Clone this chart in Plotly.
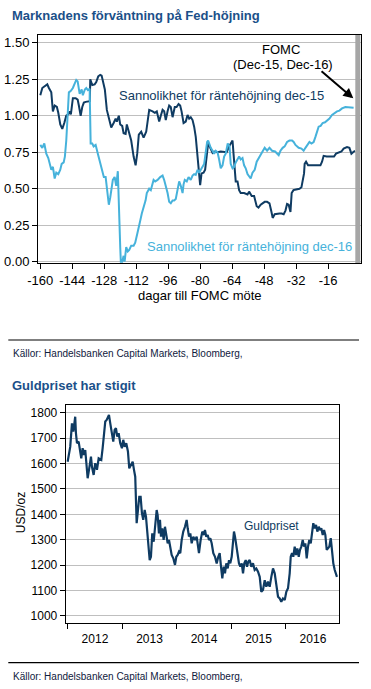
import numpy as np
import pandas as pd
import plotly.graph_objects as go

# ---------------- Data: Fed hike probability ----------------
dark_days = [-160, -159, -158, -156.5, -155.7, -154.5, -153.7, -152.8, -151.7, -151,
             -150, -149, -148, -147, -146, -145.3, -144.7, -143.7, -142.3, -141.3,
             -140.7, -139.8, -139, -138.2, -137.3, -136.2, -135.2, -135, -134, -132.8,
             -132, -131, -130, -129.3, -128.7, -127.7, -126.7, -125.7, -124.5, -123.3,
             -122.3, -121.7, -120.7, -120, -119, -118.3, -117.3, -116.7, -115.7, -114.5,
             -113.3, -112.3, -111.5, -110.7, -109.5, -108.3, -107, -106.3, -105.5, -103.8,
             -102.7, -101.7, -100.5, -99.7, -98.8, -98, -97.2, -96.3, -95.5, -94.7,
             -93.8, -92.7, -91.8, -90.8, -90, -89.3, -88.3, -87.2, -86.3, -85.5,
             -84.7, -83.8, -83, -82.2, -81.7, -81, -80, -79.3, -78.3, -77.5,
             -76.7, -76, -75.3, -74.7, -73.8, -73, -71.3, -69.7, -68, -66.7,
             -65.5, -64.7, -63.8, -63.3, -62.7, -62.2, -61.3, -60.5, -59.7, -58,
             -56.3, -55.5, -54.2, -53, -51.7, -50.8, -49.7, -48.7, -47.7, -46.5,
             -45.3, -44.3, -43.7, -42.7, -41.5, -40.3, -39.2, -38.2, -37.3, -36.5,
             -35.7, -34.8, -34.2, -33.3, -32, -30.3, -29.3, -28.7, -28, -27.7,
             -27, -26, -23.2, -19.8, -19, -18.2, -16.7, -15, -13, -12,
             -10.7, -9.3, -8.2, -6.5, -5.3, -4.3, -3.5, -2.5]
dark_vals = [1.14, 1.19, 1.20, 1.215, 1.19, 1.16, 1.03, 1.07, 1.06, 1.02,
             0.94, 0.91, 0.95, 1.00, 1.01, 1.03, 1.01, 1.12, 1.12, 1.11,
             1.07, 1.00, 1.06, 1.09, 1.095, 1.10, 1.10, 1.25, 1.21, 1.215,
             1.23, 1.27, 1.28, 1.275, 1.23, 1.18, 1.04, 0.99, 0.92, 0.95,
             0.98, 0.96, 1.00, 0.94, 0.93, 0.88, 0.875, 0.94, 0.88, 0.83,
             0.72, 0.66, 0.74, 0.87, 0.89, 0.85, 0.89, 0.98, 1.04, 1.03,
             1.02, 1.03, 0.96, 1.00, 1.04, 1.03, 0.97, 1.03, 1.07, 1.06,
             0.99, 1.06, 1.06, 1.08, 1.07, 1.03, 0.95, 0.96, 1.005, 0.98,
             0.99, 0.97, 0.925, 0.855, 0.79, 0.70, 0.525, 0.605, 0.61, 0.63,
             0.755, 0.81, 0.79, 0.77, 0.745, 0.755, 0.75, 0.755, 0.755, 0.75,
             0.79, 0.81, 0.83, 0.74, 0.64, 0.55, 0.55, 0.49, 0.47, 0.47,
             0.46, 0.48, 0.45, 0.45, 0.38, 0.37, 0.39, 0.40, 0.41, 0.41,
             0.40, 0.34, 0.30, 0.325, 0.33, 0.33, 0.33, 0.325, 0.35, 0.395,
             0.39, 0.34, 0.47, 0.49, 0.495, 0.50, 0.51, 0.56, 0.605, 0.67,
             0.685, 0.66, 0.66, 0.66, 0.685, 0.725, 0.72, 0.72, 0.72, 0.74,
             0.745, 0.755, 0.775, 0.785, 0.78, 0.74, 0.75, 0.76]

light_days = [-160, -159, -158, -157, -156, -155.3, -154.5, -153.7, -152.8, -152,
              -151, -150, -149.3, -148.3, -147.7, -147, -146.2, -145.7, -144.7, -143.7,
              -142.8, -142, -141.3, -140.3, -139.3, -138.7, -137.7, -137, -136.2, -135.3,
              -134.8, -134, -133.3, -132.3, -131.2, -130, -129, -128.2, -127.3, -126.5,
              -125.7, -125, -124.3, -123.7, -122.8, -122, -121.2, -120.8, -120, -119.7,
              -119, -118.3, -117.8, -117, -116.2, -115.5, -114.5, -113.3, -112.5, -111.5,
              -110.7, -110, -109.2, -108.3, -107.3, -106.7, -105.5, -104.7, -103.3, -102.5,
              -101.3, -100, -98.8, -98, -97.2, -96.3, -95.5, -94.7, -93.8, -93,
              -92.2, -91.3, -90.5, -89.7, -88.8, -88.3, -87.7, -86.7, -85.8, -84.7,
              -83.8, -83, -82.2, -81.3, -80.5, -79.7, -78.8, -78, -77.2, -76.5,
              -76, -75.3, -74.7, -73.8, -73, -72.2, -71.3, -70.5, -69.7, -68.8,
              -68, -67.2, -66.2, -65.3, -64.7, -63.8, -63, -62.2, -61.3, -60.5,
              -59.7, -58.8, -58, -57.2, -56.3, -55.5, -54.7, -53.8, -52.7, -51.7,
              -50.3, -49.3, -48.7, -47.7, -46.5, -45.3, -44, -42.5, -40.7, -39.8,
              -38.7, -37.7, -36.5, -35.3, -34, -33.2, -32.3, -30.7, -29.3, -28.2,
              -27.3, -26.5, -25.3, -24.3, -23.2, -22.3, -21.5, -20.7, -19.7, -18.7,
              -17.5, -16.3, -15.3, -14, -13, -11.5, -10.3, -9, -7.3, -5.7,
              -4, -3.2]
light_vals = [0.80, 0.78, 0.81, 0.74, 0.71, 0.67, 0.63, 0.65, 0.57, 0.61,
              0.60, 0.63, 0.67, 0.68, 0.72, 0.83, 1.02, 1.16, 1.17, 1.19,
              1.22, 1.245, 1.235, 1.15, 1.18, 1.14, 1.18, 1.19, 1.175, 1.185,
              0.81, 0.81, 0.79, 0.80, 0.74, 0.67, 0.605, 0.58, 0.58, 0.47,
              0.39, 0.44, 0.52, 0.56, 0.58, 0.52, 0.62, 0.38, 0.10, 0.00,
              0.00, 0.04, 0.00, 0.10, 0.07, 0.08, 0.11, 0.11, 0.13, 0.19,
              0.25, 0.28, 0.33, 0.37, 0.42, 0.47, 0.50, 0.49, 0.56, 0.55,
              0.56, 0.58, 0.59, 0.56, 0.525, 0.47, 0.41, 0.40, 0.42, 0.42,
              0.43, 0.50, 0.55, 0.52, 0.47, 0.53, 0.56, 0.55, 0.58, 0.56,
              0.59, 0.60, 0.595, 0.63, 0.61, 0.63, 0.65, 0.67, 0.75, 0.82,
              0.83, 0.80, 0.78, 0.76, 0.74, 0.76, 0.75, 0.70, 0.64, 0.66,
              0.72, 0.74, 0.81, 0.79, 0.67, 0.64, 0.65, 0.68, 0.70, 0.72,
              0.70, 0.71, 0.66, 0.64, 0.60, 0.58, 0.57, 0.61, 0.63, 0.685,
              0.72, 0.74, 0.75, 0.78, 0.76, 0.78, 0.76, 0.755, 0.73, 0.76,
              0.78, 0.79, 0.82, 0.83, 0.83, 0.82, 0.80, 0.78, 0.775, 0.76,
              0.78, 0.80, 0.82, 0.81, 0.82, 0.855, 0.89, 0.925, 0.93, 0.95,
              0.955, 0.97, 0.98, 1.005, 1.015, 1.03, 1.035, 1.05, 1.06, 1.06,
              1.055, 1.055]

top_tick_vals = [-160, -144, -128, -112, -96, -80, -64, -48, -32, -16]
top_tick_labels = ["-160", "-144", "-128", "-112", "-96", "-80", "-64", "-48", "-32", "-16"]
prob_ticks = [0, 0.25, 0.5, 0.75, 1.0, 1.25, 1.5]

# ---------------- Data: gold price (decimal years since 2012-01-01) ----------------
gold_t = [0.0, 0.018, 0.048, 0.079, 0.103, 0.128, 0.139, 0.152, 0.171, 0.202,
          0.231, 0.250, 0.275, 0.299, 0.323, 0.349, 0.367, 0.396, 0.428, 0.446,
          0.477, 0.506, 0.538, 0.569, 0.617, 0.642, 0.666, 0.690, 0.716, 0.739,
          0.758, 0.782, 0.813, 0.837, 0.862, 0.886, 0.910, 0.936, 0.965, 0.996,
          1.020, 1.046, 1.075, 1.106, 1.130, 1.161, 1.193, 1.217, 1.240, 1.266,
          1.290, 1.314, 1.339, 1.363, 1.387, 1.413, 1.437, 1.461, 1.486, 1.505,
          1.528, 1.552, 1.578, 1.596, 1.620, 1.633, 1.651, 1.675, 1.694, 1.712,
          1.736, 1.761, 1.785, 1.809, 1.835, 1.859, 1.883, 1.908, 1.938, 1.969,
          1.993, 2.018, 2.042, 2.066, 2.092, 2.121, 2.152, 2.183, 2.202, 2.226,
          2.250, 2.275, 2.305, 2.336, 2.367, 2.385, 2.409, 2.440, 2.470, 2.501,
          2.519, 2.543, 2.569, 2.593, 2.617, 2.642, 2.672, 2.703, 2.734, 2.763,
          2.789, 2.813, 2.837, 2.862, 2.886, 2.910, 2.936, 2.960, 2.983, 3.009,
          3.033, 3.051, 3.070, 3.094, 3.119, 3.143, 3.167, 3.193, 3.217, 3.240,
          3.266, 3.290, 3.314, 3.339, 3.369, 3.400, 3.431, 3.461, 3.492, 3.523,
          3.552, 3.583, 3.615, 3.644, 3.675, 3.706, 3.736, 3.767, 3.798, 3.828,
          3.859, 3.890, 3.919, 3.950, 3.982, 4.011, 4.042, 4.073, 4.092, 4.116,
          4.139, 4.165, 4.189, 4.213, 4.239, 4.262, 4.286, 4.312, 4.336, 4.360,
          4.385, 4.409, 4.433, 4.459, 4.483, 4.506, 4.532, 4.556, 4.580, 4.606,
          4.629, 4.653, 4.679, 4.703, 4.727, 4.752, 4.776, 4.800, 4.826, 4.850,
          4.873, 4.899, 4.928, 4.940]
gold_price = [1607, 1633, 1666, 1758, 1725, 1765, 1784, 1719, 1680, 1686,
              1653, 1620, 1660, 1633, 1653, 1587, 1542, 1581, 1627, 1587,
              1555, 1601, 1575, 1620, 1614, 1660, 1719, 1765, 1771, 1784,
              1791, 1758, 1725, 1686, 1732, 1739, 1706, 1719, 1680, 1660,
              1693, 1666, 1680, 1647, 1581, 1594, 1607, 1575, 1548, 1365,
              1430, 1469, 1469, 1404, 1378, 1417, 1391, 1325, 1273, 1220,
              1233, 1325, 1292, 1325, 1380, 1417, 1397, 1325, 1378, 1312,
              1345, 1299, 1351, 1325, 1286, 1299, 1260, 1240, 1227, 1201,
              1233, 1240, 1253, 1247, 1299, 1332, 1351, 1378, 1345, 1312,
              1325, 1286, 1312, 1299, 1312, 1286, 1247, 1299, 1332, 1319,
              1338, 1312, 1319, 1299, 1306, 1286, 1247, 1233, 1207, 1233,
              1247, 1194, 1148, 1194, 1168, 1207, 1187, 1220, 1207, 1233,
              1286, 1332, 1312, 1273, 1233, 1207, 1194, 1207, 1168, 1207,
              1220, 1194, 1214, 1220, 1194, 1207, 1181, 1187, 1174, 1154,
              1095, 1102, 1141, 1115, 1135, 1115, 1154, 1187, 1168, 1122,
              1076, 1069, 1056, 1069, 1063, 1095, 1109, 1168, 1233, 1247,
              1233, 1273, 1240, 1266, 1233, 1260, 1273, 1299, 1273, 1286,
              1227, 1273, 1299, 1286, 1338, 1365, 1345, 1358, 1332, 1351,
              1338, 1345, 1319, 1338, 1319, 1260, 1266, 1273, 1306, 1247,
              1207, 1181, 1161, 1154]
gold_ticks = [1000, 1100, 1200, 1300, 1400, 1500, 1600, 1700, 1800]

gold_dates = pd.Timestamp("2012-01-01") + pd.to_timedelta(np.array(gold_t) * 365.25, unit="D")

# ---------------- Styling ----------------
W, H = 371, 689
FONT = "Liberation Sans, Arial, sans-serif"
DARK = "#0f3b62"
LIGHT = "#46b2db"
TITLE_C = "#1b5089"
GRID = "#bfbfbf"


def px(x):
    return x / W


def py(y):
    return 1 - y / H


fig = go.Figure()
fig.add_trace(go.Scatter(x=dark_days, y=dark_vals, mode="lines",
                         line=dict(color=DARK, width=2), xaxis="x", yaxis="y",
                         showlegend=False, hoverinfo="skip"))
fig.add_trace(go.Scatter(x=light_days, y=light_vals, mode="lines",
                         line=dict(color=LIGHT, width=2), xaxis="x", yaxis="y",
                         showlegend=False, hoverinfo="skip"))
fig.add_trace(go.Scatter(x=gold_dates, y=gold_price, mode="lines",
                         line=dict(color=DARK, width=2.2), xaxis="x2", yaxis="y2",
                         showlegend=False, hoverinfo="skip"))

axis_common = dict(showline=True, linecolor="black", linewidth=1, mirror=True,
                   ticks="outside", ticklen=5, tickcolor="black", zeroline=False,
                   automargin=False)

fig.update_layout(
    template="none",
    width=W, height=H,
    margin=dict(l=0, r=0, t=0, b=0, pad=0),
    paper_bgcolor="white", plot_bgcolor="white",
    font=dict(family=FONT, color="black", size=13),
    xaxis=dict(domain=[px(38), px(361)], range=[-161.15, 0.5], anchor="y",
               tickvals=top_tick_vals, ticktext=top_tick_labels, showgrid=False,
               tickfont=dict(size=13, color="black"), **axis_common),
    yaxis=dict(domain=[py(263), py(35)], range=[-0.009, 1.553], anchor="x",
               tickvals=prob_ticks, tickformat=".2f", showgrid=True, gridcolor=GRID,
               gridwidth=1, tickfont=dict(size=13, color="black"), **axis_common),
    xaxis2=dict(domain=[px(65.7), px(339)], type="date",
                range=["2011-12-19", "2016-12-23"], anchor="y2",
                tick0="2012-01-01", dtick="M12", tickformat="%Y",
                ticklabelmode="period", showgrid=False,
                tickfont=dict(size=12, color="black"), **axis_common),
    yaxis2=dict(domain=[py(622.7), py(405)], range=[973.6, 1830], anchor="x2",
                tickvals=gold_ticks, showgrid=True, gridcolor=GRID, gridwidth=1,
                tickfont=dict(size=12, color="black"), **axis_common),
)

shapes = [
    # FOMC day marker bar
    dict(type="rect", xref="x", yref="y domain", x0=-2.35, x1=0.15, y0=0, y1=1,
         fillcolor="#a6a6a6", line=dict(width=0), layer="above"),
    # separator lines
    dict(type="line", xref="paper", yref="paper", x0=px(8.3), x1=px(359),
         y0=py(340), y1=py(340), line=dict(color="black", width=1.2)),
    dict(type="line", xref="paper", yref="paper", x0=px(8.3), x1=px(359),
         y0=py(662.7), y1=py(662.7), line=dict(color="black", width=1.2)),
]
fig.update_layout(shapes=shapes)


def text_ann(text, x, y, size=13, color="black", xanchor="left", bold=False, angle=0):
    t = f"<b>{text}</b>" if bold else text
    return dict(text=t, x=px(x), y=py(y), xref="paper", yref="paper",
                xanchor=xanchor, yanchor="middle", showarrow=False,
                textangle=angle, font=dict(family=FONT, size=size, color=color))


annotations = [
    text_ann("Marknadens förväntning på Fed-höjning", 10, 15.7, 13, TITLE_C, bold=True),
    text_ann("FOMC", 281, 49.7, 13, "black", xanchor="center"),
    text_ann("(Dec-15, Dec-16)", 283, 65, 13, "black", xanchor="center"),
    text_ann("Sannolikhet för räntehöjning dec-15", 116.5, 95.7, 13, DARK),
    text_ann("Sannolikhet för räntehöjning dec-16", 144.5, 246.7, 13, LIGHT),
    text_ann("dagar till FOMC möte", 200, 295, 13, "black", xanchor="center"),
    text_ann("Källor: Handelsbanken Capital Markets, Bloomberg,", 10.5, 353, 10, "#10203d"),
    text_ann("Guldpriset har stigit", 10, 385, 13, TITLE_C, bold=True),
    text_ann("Guldpriset", 241.5, 526, 12, DARK),
    text_ann("USD/oz", 20.7, 512.5, 12, "black", xanchor="center", angle=-90),
    text_ann("Källor: Handelsbanken Capital Markets, Bloomberg,", 10.5, 676.7, 10, "#10203d"),
    # arrow pointing to the FOMC meeting
    dict(x=-3.35, y=1.119, xref="x", yref="y", ax=-20, ay=1.313, axref="x", ayref="y",
         text="", showarrow=True, arrowhead=2, arrowsize=1, arrowwidth=2,
         arrowcolor="black"),
]
fig.update_layout(annotations=annotations)

fig.write_html(
    "out.html",
    config={"displayModeBar": False, "staticPlot": True},
    post_script="document.documentElement.style.margin='0';"
                "document.body.style.margin='0';document.body.style.padding='0';"
                "document.body.style.overflow='hidden';",
)
